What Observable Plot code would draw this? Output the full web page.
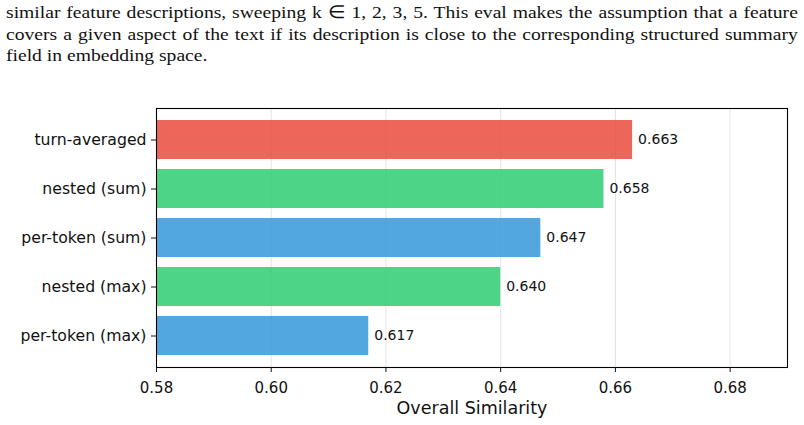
<!DOCTYPE html>
<html>
<head>
<meta charset="utf-8">
<script src="https://cdn.jsdelivr.net/npm/d3@7"></script>
<script src="https://cdn.jsdelivr.net/npm/@observablehq/plot@0.6"></script>
<style>
  html, body { margin: 0; padding: 0; background: #fff; }
  body { width: 804px; height: 425px; overflow: hidden; }
  .note {
    box-sizing: border-box;
    height: 80px;
    padding: 1.8px 0 0 6px;
    width: 804px;
    font-family: "Liberation Serif", "Times New Roman", serif;
    font-size: 17.5px;
    line-height: 21.7px;
    color: #111;
  }
  .note .body {
    width: 707px;
    transform: scaleX(1.12);
    transform-origin: 0 0;
  }
  .note .line { text-align: justify; text-align-last: justify; white-space: nowrap; }
  .note .line.last { text-align: left; text-align-last: left; }
  #chart svg { display: block; }
</style>
</head>
<body>
<div class="note">
  <div class="body">
    <div class="line">similar feature descriptions, sweeping k ∈ 1, 2, 3, 5. This eval makes the assumption that a feature</div>
    <div class="line">covers a given aspect of the text if its description is close to the corresponding structured summary</div>
    <div class="line last">field in embedding space.</div>
  </div>
</div>
<div id="chart"></div>
<script>
// Aggregation methods, top to bottom, with their overall similarity scores
const methods = ["turn-averaged", "nested (sum)", "per-token (sum)", "nested (max)", "per-token (max)"];
const scores = [0.663, 0.658, 0.647, 0.640, 0.617];
const families = ["turn", "nested", "per-token", "nested", "per-token"];

const familyNames = ["turn", "nested", "per-token"];
const familyColors = ["#e74c3c", "#2ecc71", "#3498db"];

const xTicks = [0.58, 0.60, 0.62, 0.64, 0.66, 0.68];
const xDomain = [0.58, 0.69];

const rows = methods.map((m, i) => ({ method: m, score: scores[i], family: families[i] }));

const chart = Plot.plot({
  width: 804,
  height: 345,
  marginTop: 28,
  marginBottom: 58,
  marginLeft: 156,
  marginRight: 17,
  style: { fontFamily: "DejaVu Sans, sans-serif", color: "#111", background: "#fff" },
  x: { domain: xDomain, ticks: xTicks },
  y: { domain: methods, paddingInner: 0.2, paddingOuter: 0.24 },
  color: { domain: familyNames, range: familyColors },
  marks: [
    Plot.gridX(xTicks, { stroke: "#b0b0b0", strokeOpacity: 0.35, strokeWidth: 1 }),
    Plot.barX(rows, {
      x1: () => xDomain[0],
      x2: "score",
      y: "method",
      fill: "family",
      fillOpacity: 0.85
    }),
    Plot.text(rows, {
      x: "score",
      y: "method",
      text: d => d3.format(".3f")(d.score),
      textAnchor: "start",
      dx: 5.5,
      fontSize: 14,
      fill: "#111"
    }),
    Plot.frame({ stroke: "#000", strokeWidth: 1.1 }),
    Plot.axisY({ tickSize: 5, tickPadding: 5, fontSize: 15.7, label: null }),
    Plot.axisX({ ticks: xTicks, tickFormat: ".2f", tickSize: 5, tickPadding: 10, fontSize: 15, label: null }),
    Plot.text(["Overall Similarity"], { frameAnchor: "bottom", dy: 46, fontSize: 17.5, fill: "#111" })
  ]
});

document.getElementById("chart").appendChild(chart);
</script>
</body>
</html>
